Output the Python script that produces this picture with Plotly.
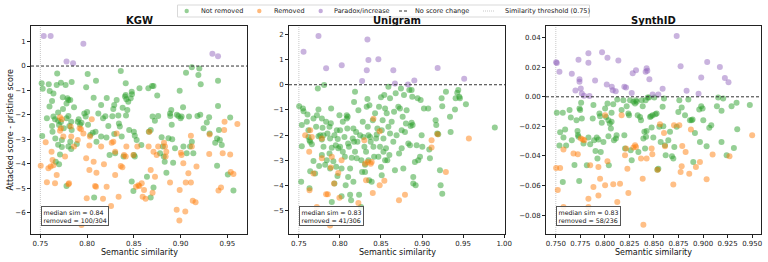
import plotly.graph_objects as go
from plotly.subplots import make_subplots

# ---------------- data (semantic similarity, attacked - pristine score) ----------------
kgw_not_removed = [
(0.7514,-0.71),(0.7525,-0.93),(0.752,-2.87),(0.759,-0.75),(0.7598,-1.66),(0.757,-2.14),(0.760,-1.02),(0.7625,-1.43),
(0.764,-1.12),(0.764,-2.07),(0.7625,-2.46),(0.763,-2.69),(0.7657,-2.18),(0.766,-2.97),(0.768,-0.31),(0.7675,-0.78),
(0.769,-1.90),(0.769,-2.24),(0.770,-2.42),(0.769,-3.22),(0.771,-3.62),(0.770,-4.02),(0.7665,-3.92),(0.772,-0.68),
(0.772,-2.29),(0.773,-3.03),(0.773,-3.32),(0.7742,-1.76),(0.774,-1.28),(0.775,-2.55),(0.777,-0.78),(0.778,-1.53),
(0.779,-1.32),(0.780,-1.39),(0.782,-1.39),(0.778,-2.14),(0.780,-2.05),(0.783,-2.28),(0.781,-2.46),(0.782,-3.10),
(0.783,-3.40),(0.780,-3.30),(0.7835,-0.65),(0.778,-4.91),(0.7835,-2.62),(0.786,-1.69),(0.789,-3.19),(0.790,-2.28),
(0.791,-2.18),(0.7925,-2.39),(0.794,-2.32),(0.797,-1.94),(0.799,-0.87),(0.8006,-0.33),(0.800,-1.88),(0.7985,-2.07),
(0.801,-2.41),(0.8035,-2.82),(0.806,-2.73),(0.807,-1.30),(0.8095,-0.60),(0.809,-2.69),(0.8075,-5.38),(0.810,-3.10),
(0.812,-1.94),(0.815,-1.60),(0.817,-2.14),(0.815,-2.89),(0.8195,-2.06),(0.821,-1.31),(0.8207,-2.93),(0.8227,-2.46),
(0.824,-3.64),(0.827,-2.06),(0.828,-1.76),(0.829,-1.60),(0.829,-2.78),(0.830,-3.57),(0.8316,-1.39),(0.8334,-2.03),
(0.834,-2.35),(0.836,-0.20),(0.835,-2.48),(0.837,-2.89),(0.838,-1.71),(0.839,-3.71),(0.8405,-1.25),(0.8413,-0.71),
(0.8413,-1.19),(0.8416,-2.03),(0.842,-1.36),(0.843,-1.80),(0.844,-1.46),(0.845,-2.62),(0.8466,-1.32),(0.8477,-1.05),
(0.848,-1.16),(0.850,-2.69),(0.851,-2.86),(0.853,-3.03),(0.850,-3.64),(0.851,-3.71),(0.8477,-4.73),(0.8495,-5.12),
(0.856,-0.91),(0.858,-3.23),(0.864,-4.53),(0.8655,-0.91),(0.866,-2.69),(0.868,-2.62),(0.8695,-0.82),(0.870,-2.07),
(0.871,-0.82),(0.868,-5.39),(0.871,-4.98),(0.8725,-2.24),(0.875,-1.21),(0.876,-2.05),(0.878,-3.57),(0.8797,-2.92),
(0.881,-3.30),(0.882,-3.71),(0.883,-3.92),(0.8848,-4.37),(0.887,-2.96),(0.8887,-1.94),(0.889,-2.05),(0.890,-1.80),
(0.8905,-2.41),(0.891,-3.00),(0.892,-3.96),(0.894,-3.37),(0.896,-2.00),(0.8976,-2.05),(0.899,-1.01),(0.900,-2.14),
(0.901,-2.07),(0.9026,-1.69),(0.903,-3.30),(0.9058,-0.27),(0.9065,-3.57),(0.909,-2.07),(0.910,-3.30),(0.912,-0.05),
(0.912,-3.10),(0.9136,-3.57),(0.918,-2.05),(0.919,-0.37),(0.920,-0.10),(0.921,-2.00),(0.9215,-0.75),(0.9245,-2.55),
(0.928,-2.31),(0.9305,-2.10),(0.931,-2.76),(0.937,-3.14),(0.939,-2.97),(0.940,-0.60),(0.940,-1.64),(0.941,-2.62),
(0.942,-3.03),(0.939,-4.08),(0.944,-3.23),(0.9505,-4.44),(0.953,-2.11),(0.9565,-5.10),
]
kgw_removed = [
(0.7504,-4.08),(0.7557,-3.12),(0.757,-4.76),(0.7586,-4.19),(0.761,-4.12),(0.762,-3.51),(0.763,-3.85),(0.764,-4.06),
(0.7657,-4.80),(0.7675,-4.46),(0.771,-2.10),(0.772,-2.55),(0.771,-2.65),(0.773,-2.18),(0.7746,-2.89),(0.7764,-3.71),
(0.7800,-4.84),(0.7807,-4.80),(0.7824,-2.48),(0.783,-2.89),(0.786,-3.30),(0.790,-3.03),(0.792,-2.55),(0.7935,-2.59),
(0.794,-6.51),(0.796,-2.76),(0.799,-3.78),(0.7996,-5.42),(0.8024,-3.25),(0.803,-2.89),(0.8024,-4.26),(0.805,-2.18),
(0.807,-3.92),(0.8085,-4.91),(0.8095,-4.94),(0.810,-4.37),(0.815,-3.30),(0.817,-5.44),(0.818,-4.02),(0.8209,-4.94),
(0.8256,-5.73),(0.8263,-3.14),(0.828,-3.10),(0.830,-4.46),(0.830,-3.51),(0.8316,-2.76),(0.8337,-5.35),(0.836,-4.09),
(0.8377,-4.15),(0.8395,-3.64),(0.8413,-3.71),(0.842,-3.30),(0.8495,-3.64),(0.8523,-4.94),(0.8537,-3.30),(0.8548,-4.88),
(0.8559,-4.91),(0.8584,-4.80),(0.8594,-5.35),(0.8609,-5.08),(0.8626,-5.44),(0.8658,-3.30),(0.8665,-2.69),(0.868,-4.26),
(0.870,-5.19),(0.871,-3.51),(0.8726,-4.53),(0.8744,-3.64),(0.876,-3.30),(0.8822,-3.14),(0.8833,-3.30),(0.884,-3.71),
(0.8847,-3.51),(0.8887,-4.77),(0.8958,-5.89),(0.8987,-6.33),(0.899,-5.08),(0.9003,-3.55),(0.901,-3.64),(0.9029,-3.98),
(0.905,-5.96),(0.9055,-4.77),(0.9083,-4.39),(0.911,-4.77),(0.911,-2.86),(0.912,-3.30),(0.913,-5.52),(0.916,-5.58),
(0.917,-4.12),(0.9306,-3.60),(0.931,-2.80),(0.9405,-5.10),(0.9432,-4.98),(0.945,-3.57),(0.9466,-2.62),(0.947,-2.28),
(0.953,-3.62),(0.9536,-4.34),(0.9565,-4.42),(0.9607,-2.37),
]
kgw_paradox = [
(0.7536,1.23),(0.761,1.23),(0.796,0.91),(0.778,0.19),(0.785,0.11),(0.934,0.50),(0.940,0.40),
]

uni_not_removed = [
(0.7504,-0.85),(0.7536,-1.60),(0.755,-0.94),(0.7557,-1.05),(0.7536,-2.44),(0.7528,-3.85),(0.7597,-1.47),(0.7605,-1.18),
(0.7617,-1.80),(0.7617,-2.07),(0.763,-2.20),(0.7638,-2.26),(0.7638,-3.43),(0.763,-4.11),(0.7658,-2.36),(0.7678,-1.34),
(0.7678,-3.02),(0.7698,-3.52),(0.771,-1.67),(0.772,-1.21),(0.7731,-0.15),(0.7739,-0.98),(0.7739,-2.04),(0.7747,-3.22),
(0.776,-2.00),(0.778,-1.34),(0.778,-2.17),(0.778,-2.79),(0.7788,-1.71),(0.780,-2.00),(0.780,-2.46),(0.7808,-0.01),
(0.782,-3.17),(0.7832,-1.47),(0.784,-2.99),(0.7848,-1.93),(0.7873,-1.67),(0.7873,-2.73),(0.788,-2.13),(0.788,-3.32),
(0.7889,-1.53),(0.7893,-0.94),(0.7901,-2.50),(0.7901,-4.65),(0.792,-3.03),(0.7933,-2.00),(0.7933,-3.92),(0.795,-2.40),
(0.7954,-3.25),(0.7962,-1.80),(0.797,-3.62),(0.7974,-2.15),(0.798,-2.52),(0.7994,-1.21),(0.8002,-1.80),(0.8002,-2.46),
(0.802,-3.32),(0.802,-4.42),(0.8035,-1.47),(0.8035,-2.66),(0.8055,-2.07),(0.806,-2.86),(0.807,-3.99),(0.8083,-1.21),
(0.8083,-1.34),(0.809,-1.74),(0.8095,-1.27),(0.810,-2.33),(0.810,-3.66),(0.811,-2.46),(0.8124,-3.32),(0.8124,-4.36),
(0.8136,-4.58),(0.8144,-2.90),(0.8156,-2.13),(0.8164,-1.74),(0.8164,-3.85),(0.8172,-0.68),(0.8172,-2.26),(0.8184,-0.28),
(0.8184,-2.66),(0.8197,-1.87),(0.8205,-2.92),(0.8213,-2.26),(0.8225,-1.01),(0.8233,-4.36),(0.8245,-2.00),(0.8257,-4.85),
(0.8261,-2.99),(0.827,-3.46),(0.8278,-1.47),(0.8286,-2.07),(0.8298,-2.46),(0.8306,-3.17),(0.8306,-3.46),(0.8318,-2.66),
(0.8326,-0.87),(0.8335,-0.57),(0.8339,-1.67),(0.8347,-2.00),(0.8347,-2.99),(0.8355,-3.79),(0.8359,-0.81),(0.8367,-2.07),
(0.8375,-2.26),(0.8387,-3.85),(0.840,-1.41),(0.8408,-2.46),(0.8416,-2.86),(0.8428,-1.13),(0.844,-2.13),(0.8448,-1.97),
(0.8456,-1.74),(0.8468,-2.86),(0.8476,-0.87),(0.8488,-2.46),(0.850,-0.50),(0.850,-3.26),(0.8509,-1.80),(0.8509,-3.59),
(0.852,-1.41),(0.853,-2.13),(0.853,-2.66),(0.854,-0.41),(0.855,-0.94),(0.855,-2.99),(0.8561,-2.52),(0.857,-1.13),
(0.8577,-2.99),(0.859,-0.08),(0.859,-1.67),(0.8602,-2.79),(0.861,-0.54),(0.861,-1.93),(0.863,-1.47),(0.865,-2.26),
(0.8659,-1.07),(0.867,-3.39),(0.8679,-0.34),(0.869,-2.00),(0.8711,-0.87),(0.872,-2.73),(0.8731,-0.94),(0.8743,-0.15),
(0.8752,-1.80),(0.8752,-2.52),(0.8764,-1.27),(0.8772,-3.32),(0.878,-0.41),(0.8792,-1.87),(0.8804,-1.54),(0.8812,-1.01),
(0.8833,-2.33),(0.8845,-0.21),(0.8853,-2.40),(0.8861,-1.64),(0.8873,-0.21),(0.8873,-1.51),(0.8881,-0.48),(0.8885,-1.60),
(0.8893,-3.92),(0.8893,-3.66),(0.8913,-3.06),(0.8922,-3.99),(0.8934,-2.40),(0.8946,-0.54),(0.8954,-2.99),(0.8975,-2.86),
(0.8983,-0.61),(0.8995,-2.00),(0.9003,-2.46),(0.9023,-0.94),(0.9075,-0.94),(0.9088,-2.57),(0.9096,-2.92),(0.9165,-1.41),
(0.9173,-1.60),(0.9185,-1.93),(0.9197,-1.96),(0.9218,-3.39),(0.9226,-3.99),(0.9238,-0.54),(0.9246,-0.85),(0.9246,-4.32),
(0.9291,-0.28),(0.934,-1.27),(0.9348,-1.87),(0.9401,-0.98),(0.9409,-0.54),(0.9429,-0.32),(0.9441,-0.21),(0.9453,-0.48),
(0.9461,-0.54),(0.9534,-0.77),(0.9886,-1.70),
]
uni_removed = [
(0.7577,-2.00),(0.7638,-1.80),(0.7626,-2.66),(0.7658,-2.07),(0.763,-4.18),(0.7678,-3.52),(0.7719,-4.85),(0.778,-2.92),
(0.778,-2.13),(0.7832,-4.34),(0.7852,-4.34),(0.788,-5.58),(0.7901,-2.86),(0.7889,-3.28),(0.7929,-3.92),(0.798,-3.50),
(0.7994,-4.48),(0.802,-2.99),(0.8225,-4.69),(0.8298,-2.20),(0.8306,-3.13),(0.8318,-3.79),(0.8339,-3.06),(0.8375,-3.13),
(0.8387,-3.06),(0.8408,-1.35),(0.840,-4.29),(0.8484,-1.84),(0.8484,-3.99),(0.8541,-3.81),(0.8719,-4.58),(0.8792,-4.36),
(0.9116,-2.20),(0.9116,-2.49),(0.9189,-1.96),(0.929,-3.46),(0.957,-2.13),
]
uni_paradox = [
(0.7557,1.31),(0.7739,1.93),(0.7832,0.65),(0.8022,0.77),(0.8335,1.79),(0.8347,0.98),(0.8327,0.57),(0.827,0.15),
(0.8468,1.01),(0.865,0.57),(0.867,0.05),(0.8829,0.01),(0.8906,0.17),(0.919,0.66),(0.9513,0.24),
]

syn_not_removed = [
(0.751,-0.0108),(0.7544,-0.0240),(0.7537,-0.0330),(0.7571,-0.0108),(0.7578,-0.0276),(0.7571,-0.0576),(0.7595,-0.0221),
(0.7605,-0.0330),(0.764,-0.0090),(0.7653,-0.0140),(0.7663,-0.0294),(0.769,-0.0461),(0.7711,-0.0158),(0.7721,-0.0231),
(0.7725,-0.0258),(0.7731,-0.0271),(0.7741,-0.0079),(0.7748,-0.0090),(0.7738,-0.0569),(0.7758,-0.0041),(0.7765,-0.0147),
(0.7782,-0.0316),(0.7816,-0.0463),(0.7832,-0.0276),(0.785,-0.0321),(0.7876,-0.0147),(0.7883,-0.0056),(0.789,-0.0294),
(0.7904,-0.0366),(0.7917,-0.0276),(0.7924,-0.0418),(0.7934,-0.0289),(0.7944,-0.0113),(0.7951,-0.0131),(0.7958,-0.0373),
(0.7968,-0.0176),(0.7985,-0.0305),(0.8002,-0.0079),(0.8012,-0.0136),(0.8026,-0.0045),(0.8036,-0.0158),(0.8036,-0.0267),
(0.804,-0.0463),(0.805,-0.0181),(0.8061,-0.0215),(0.8068,-0.0108),(0.8068,-0.0169),(0.8085,-0.0050),(0.8092,-0.0294),
(0.8112,-0.0282),(0.8119,-0.0260),(0.8126,-0.0018),(0.817,-0.0090),(0.8188,-0.0023),(0.8198,-0.0260),(0.8205,-0.0350),
(0.8222,-0.0063),(0.8239,-0.0113),(0.8246,-0.0124),(0.8256,-0.0023),(0.8263,-0.0362),(0.8273,-0.0429),(0.829,-0.0034),
(0.8307,-0.0045),(0.8317,-0.0023),(0.8324,-0.0034),(0.8334,-0.0124),(0.8341,-0.0373),(0.8358,-0.0136),(0.8368,-0.0158),
(0.8375,-0.0023),(0.8385,-0.0063),(0.8392,-0.0282),(0.8402,-0.0237),(0.8409,-0.0350),(0.8415,-0.0023),(0.8419,-0.0271),
(0.8425,-0.0231),(0.8436,-0.0005),(0.845,-0.0005),(0.846,-0.0136),(0.847,-0.0131),(0.8476,-0.0208),(0.8486,-0.0124),
(0.8493,-0.0276),(0.8503,-0.0005),(0.8514,-0.0118),(0.8527,-0.0113),(0.8534,-0.0493),(0.8544,-0.0486),(0.8554,-0.0203),
(0.8568,-0.0305),(0.8588,-0.0068),(0.8595,-0.0199),(0.8602,-0.0011),(0.8612,-0.0328),(0.8619,-0.0395),(0.8646,-0.0294),
(0.8663,-0.0237),(0.8683,-0.0402),(0.8697,-0.0418),(0.8707,-0.0339),(0.8731,-0.0203),(0.8748,-0.0102),(0.8758,-0.0023),
(0.8782,-0.0072),(0.8816,-0.0124),(0.885,-0.0018),(0.8866,-0.0158),(0.8883,-0.0158),(0.8893,-0.0154),(0.890,-0.0441),
(0.8917,-0.0244),(0.8961,-0.0086),(0.8968,-0.0305),(0.8981,-0.0063),(0.8995,-0.0079),(0.9002,-0.0158),(0.9036,-0.0334),
(0.9063,-0.0210),(0.9083,-0.0192),(0.9141,-0.0063),(0.9154,-0.0005),(0.9188,-0.0095),(0.9188,-0.0305),(0.9205,-0.0011),
(0.924,-0.0395),(0.929,-0.0063),(0.9314,-0.0346),(0.9341,-0.0041),(0.9348,-0.0219),(0.9476,-0.0056),
]
syn_removed = [
(0.7503,-0.0481),(0.7544,-0.0481),(0.752,-0.0631),(0.7578,-0.0357),(0.7578,-0.0746),(0.768,-0.0384),(0.7724,-0.0389),
(0.7755,-0.0282),(0.7775,-0.0289),(0.779,-0.0294),(0.7832,-0.0689),(0.7832,-0.0746),(0.785,-0.0463),(0.7883,-0.0610),
(0.7934,-0.0475),(0.7951,-0.0554),(0.7934,-0.0667),(0.8002,-0.0124),(0.8002,-0.0599),(0.8026,-0.0436),(0.8085,-0.0592),
(0.8126,-0.0712),(0.8154,-0.0588),(0.817,-0.0124),(0.8205,-0.0395),(0.8229,-0.0486),(0.8239,-0.0651),(0.8215,-0.0350),
(0.829,-0.0343),(0.8307,-0.0328),(0.8317,-0.0339),(0.8368,-0.0418),(0.8385,-0.0554),(0.8392,-0.0866),(0.8425,-0.0418),
(0.8476,-0.0350),(0.8483,-0.0389),(0.8537,-0.0493),(0.8561,-0.0185),(0.8602,-0.0244),(0.8612,-0.0334),(0.8697,-0.0594),
(0.8704,-0.0192),(0.8758,-0.0192),(0.8771,-0.0508),(0.8782,-0.0470),(0.8788,-0.0332),(0.8822,-0.0373),(0.8859,-0.0520),
(0.8876,-0.0221),(0.8927,-0.0475),(0.8968,-0.0441),(0.9036,-0.0558),(0.9097,-0.0391),(0.9269,-0.0402),(0.950,-0.0260),
]
syn_paradox = [
(0.7503,0.0233),(0.751,0.0228),(0.7537,0.0169),(0.7663,0.0156),(0.770,0.0043),(0.7731,0.0251),(0.7741,0.0118),
(0.7741,0.0102),(0.7754,0.0056),(0.7765,0.0023),(0.7788,0.0007),(0.7832,0.0294),(0.7832,0.0231),(0.7843,0.0005),
(0.790,0.0111),(0.7971,0.0301),(0.8019,0.0084),(0.8026,0.0264),(0.807,0.0068),(0.808,0.0045),(0.811,0.0038),
(0.8137,0.0246),(0.8198,0.0068),(0.8215,0.0063),(0.8273,0.0025),(0.8283,0.0160),(0.8317,0.0179),(0.8415,0.0169),
(0.8425,0.0194),(0.8432,0.0176),(0.8453,0.0118),(0.8486,0.0016),(0.8544,0.0016),(0.8588,0.0054),(0.8731,0.0411),
(0.8771,0.0206),(0.8832,0.0041),(0.8954,0.0020),(0.8981,0.0131),(0.9042,0.0235),(0.9171,0.0201),(0.9222,0.0127),
(0.9259,0.0099),
]

panel_titles = ["KGW", "Unigram", "SynthID"]
panel_notes = ["median sim = 0.84<br>removed = 100/304",
               "median sim = 0.83<br>removed = 41/306",
               "median sim = 0.83<br>removed = 58/236"]
legend_labels = ["Not removed", "Removed", "Paradox/increase",
                 "No score change", "Similarity threshold (0.75)"]
threshold = 0.75
x_ranges = [[0.740, 0.971], [0.738, 1.001], [0.740, 0.959]]
y_ranges = [[-6.88, 1.64], [-5.92, 2.33], [-0.0928, 0.0479]]
x_ticks = [[0.75, 0.80, 0.85, 0.90, 0.95],
           [0.75, 0.80, 0.85, 0.90, 0.95, 1.00],
           [0.750, 0.775, 0.800, 0.825, 0.850, 0.875, 0.900, 0.925, 0.950]]
y_ticks = [[-6, -5, -4, -3, -2, -1, 0, 1],
           [-5, -4, -3, -2, -1, 0, 1, 2],
           [-0.08, -0.06, -0.04, -0.02, 0.00, 0.02, 0.04]]
x_fmt = [".2f", ".2f", ".3f"]
y_fmt = ["d", "d", ".2f"]

panels = [
    (kgw_not_removed, kgw_removed, kgw_paradox),
    (uni_not_removed, uni_removed, uni_paradox),
    (syn_not_removed, syn_removed, syn_paradox),
]

# ---------------- figure ----------------
W, H = 768, 262
FONT = "DejaVu Sans"
GREEN = "rgb(44,160,44)"
ORANGE = "rgb(255,127,14)"
PURPLE = "rgb(148,103,189)"
GREEN_A = "rgba(44,160,44,0.5)"
ORANGE_A = "rgba(255,127,14,0.55)"
PURPLE_A = "rgba(148,103,189,0.55)"
ZERO_LINE = dict(color="#333333", width=1, dash="3px,2px")
THR_LINE = dict(color="#c8c8c8", width=1, dash="1px,1px")

x_dom = [[31 / W, 247 / W], [289 / W, 505 / W], [546 / W, 761 / W]]
y_dom = [1 - 234 / H, 1 - 26 / H]

fig = make_subplots(rows=1, cols=3)

colors = [GREEN, ORANGE, PURPLE]
for i, series in enumerate(panels):
    for j, pts in enumerate(series):
        fig.add_trace(go.Scatter(
            x=[p[0] for p in pts], y=[p[1] for p in pts], mode="markers",
            name=legend_labels[j], showlegend=False,
            marker=dict(color=colors[j], size=6, opacity=0.5, line=dict(width=0)),
        ), row=1, col=i + 1)

axis_common = dict(showline=True, mirror=True, linecolor="#222222", linewidth=1,
                   ticks="outside", ticklen=3, tickwidth=0.8, tickcolor="#222222",
                   showgrid=False, zeroline=False, automargin=False,
                   tickfont=dict(family=FONT, size=7, color="#222222"))

def px(x):
    return x / W

def py(y):
    return 1 - y / H

for i in range(3):
    xa = "xaxis" if i == 0 else f"xaxis{i+1}"
    ya = "yaxis" if i == 0 else f"yaxis{i+1}"
    fig.layout[xa].update(domain=x_dom[i], range=x_ranges[i], tickvals=x_ticks[i],
                          tickformat=x_fmt[i], **axis_common)
    fig.layout[ya].update(domain=y_dom, range=y_ranges[i], tickvals=y_ticks[i],
                          tickformat=y_fmt[i], **axis_common)
    xr = "x" if i == 0 else f"x{i+1}"
    yr = "y" if i == 0 else f"y{i+1}"
    fig.add_shape(type="line", xref=f"{xr} domain", yref=yr, x0=0, x1=1, y0=0, y1=0,
                  line=ZERO_LINE, layer="above")
    fig.add_shape(type="line", xref=xr, yref=f"{yr} domain", x0=threshold, x1=threshold, y0=0, y1=1,
                  line=THR_LINE, layer="below")
    fig.add_annotation(xref=f"{xr} domain", yref=f"{yr} domain", x=0.045, y=0.04,
                       xanchor="left", yanchor="bottom", align="left", showarrow=False,
                       text=panel_notes[i], font=dict(family=FONT, size=6.3, color="#111111"),
                       bgcolor="rgba(255,255,255,0.85)", bordercolor="#555555",
                       borderwidth=1, borderpad=1.5)
    fig.add_annotation(xref="paper", yref="paper", x=sum(x_dom[i]) / 2, y=py(20),
                       xanchor="center", yanchor="middle", showarrow=False,
                       text=f"<b>{panel_titles[i]}</b>", font=dict(family=FONT, size=10, color="#111111"))
    fig.add_annotation(xref="paper", yref="paper", x=sum(x_dom[i]) / 2, y=py(252),
                       xanchor="center", yanchor="middle", showarrow=False,
                       text="Semantic similarity", font=dict(family=FONT, size=8, color="#111111"))

fig.add_annotation(xref="paper", yref="paper", x=px(9.5), y=py(130), textangle=-90,
                   xanchor="center", yanchor="middle", showarrow=False,
                   text="Attacked score - pristine score", font=dict(family=FONT, size=8, color="#111111"))

# ---------------- legend (drawn as a row of keys and labels) ----------------
LEG_Y = 11
fig.add_shape(type="rect", xref="paper", yref="paper", x0=px(177.5), x1=px(589.5),
              y0=py(17), y1=py(5), line=dict(color="#d9d9d9", width=1), fillcolor="white", layer="above")
marker_keys = [(186.7, GREEN_A), (259.3, ORANGE_A), (320.7, PURPLE_A)]
for cx, col in marker_keys:
    fig.add_shape(type="circle", xref="paper", yref="paper",
                  x0=px(cx - 2.2), x1=px(cx + 2.2), y0=py(LEG_Y + 2.2), y1=py(LEG_Y - 2.2),
                  line=dict(width=0), fillcolor=col, layer="above")
fig.add_shape(type="line", xref="paper", yref="paper", x0=px(399), x1=px(409), y0=py(LEG_Y), y1=py(LEG_Y),
              line=ZERO_LINE, layer="above")
fig.add_shape(type="line", xref="paper", yref="paper", x0=px(483), x1=px(494), y0=py(LEG_Y), y1=py(LEG_Y),
              line=THR_LINE, layer="above")
label_x = [199, 271.5, 332, 413, 502.5]
for lx, lab in zip(label_x, legend_labels):
    fig.add_annotation(xref="paper", yref="paper", x=px(lx), y=py(LEG_Y), xanchor="left", yanchor="middle",
                       showarrow=False, text=lab, font=dict(family=FONT, size=6.5, color="#222222"))

fig.update_layout(
    width=W, height=H, margin=dict(l=0, r=0, t=0, b=0),
    paper_bgcolor="white", plot_bgcolor="white",
    font=dict(family=FONT, size=7, color="#111111"),
    showlegend=False,
)

fig.write_html("out.html")
